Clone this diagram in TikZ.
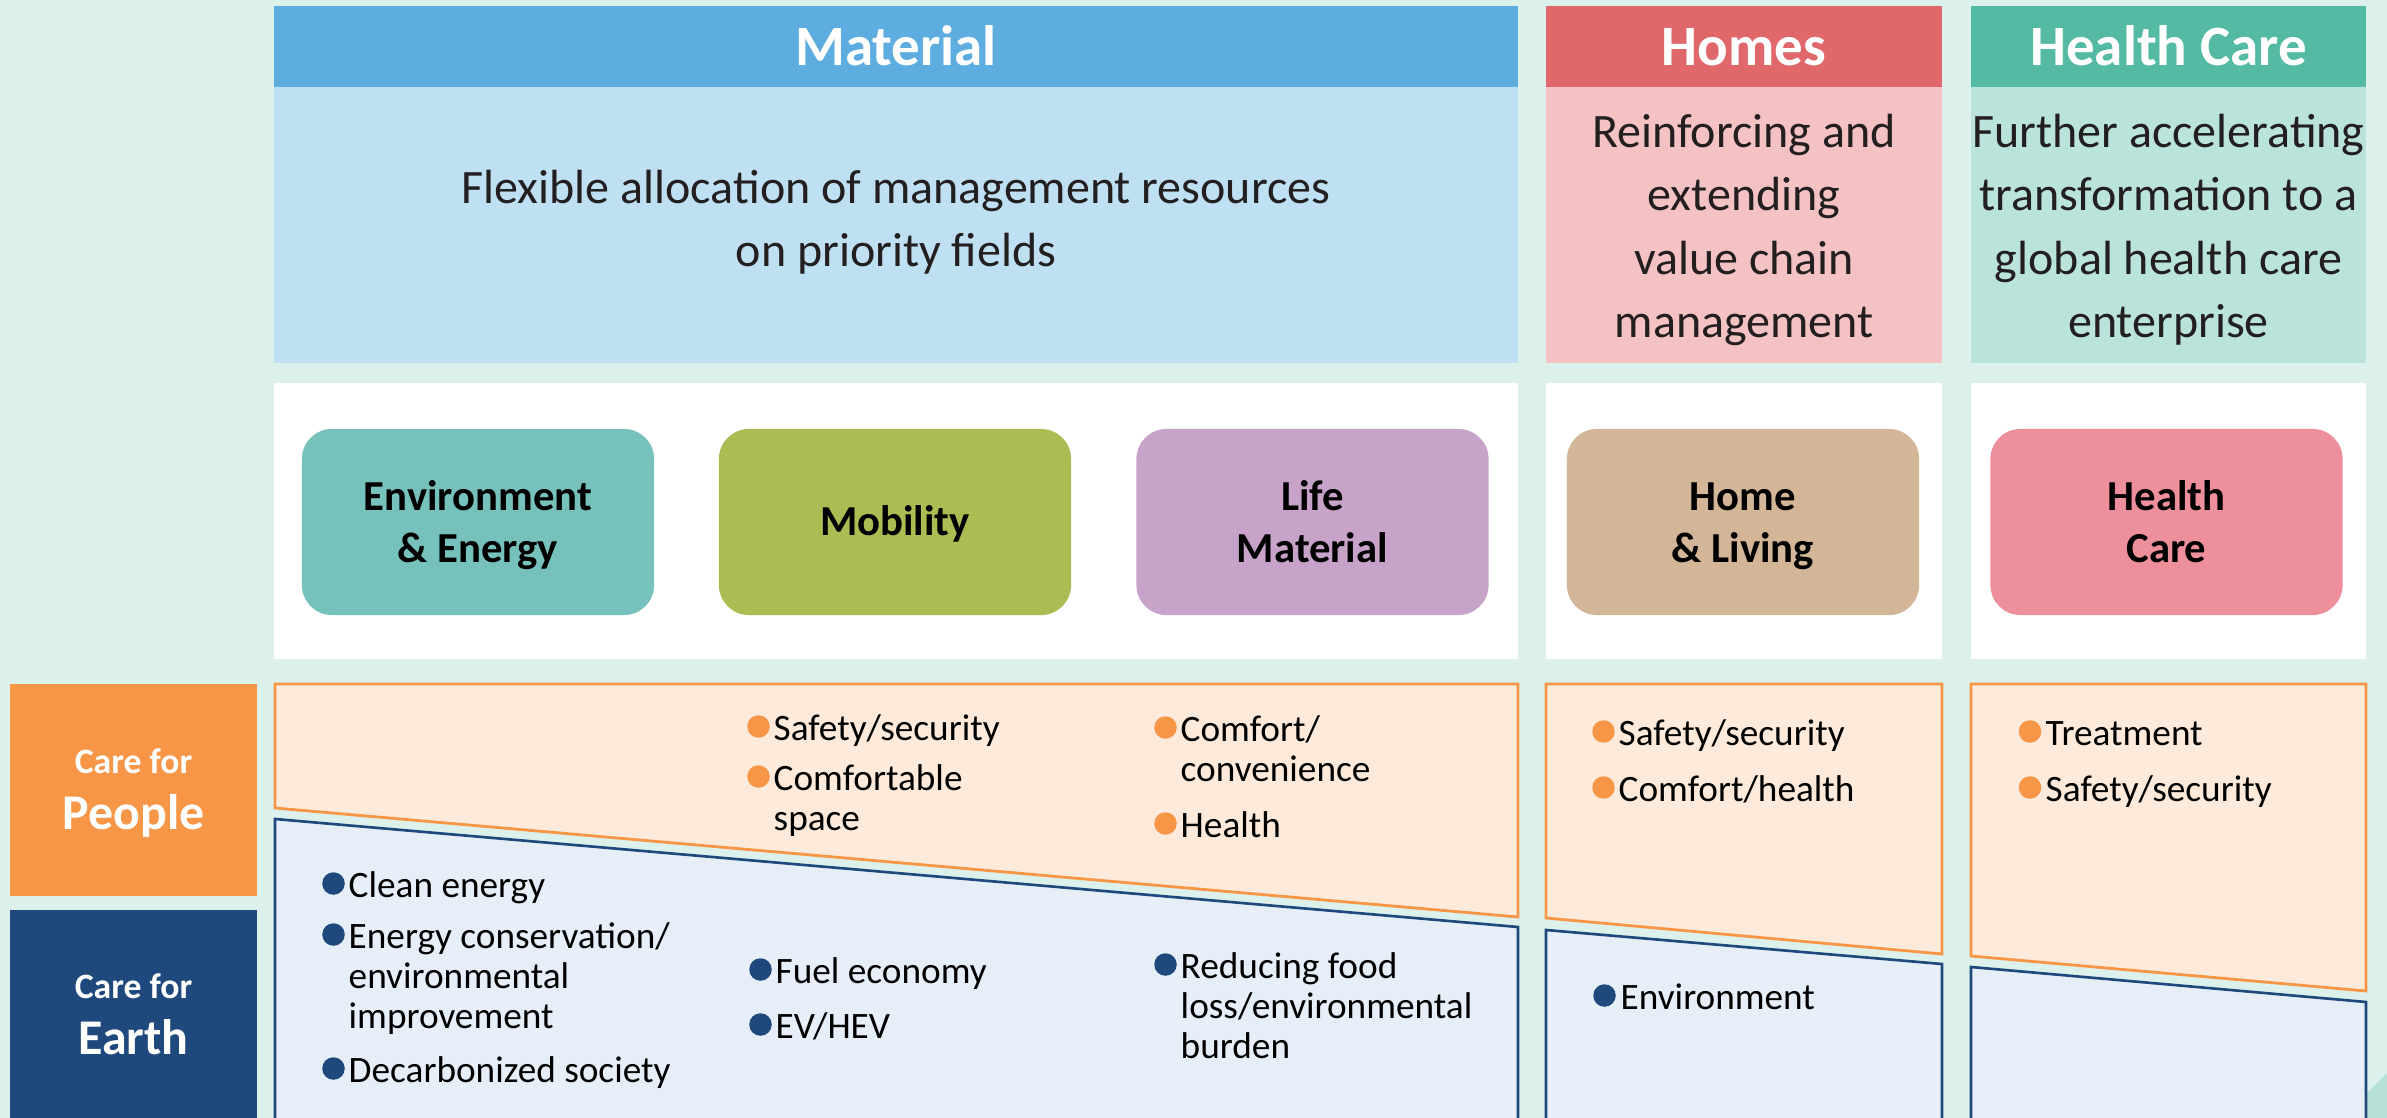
\documentclass[tikz,border=0pt]{standalone}
\usepackage{fontspec}
\setmainfont{Carlito}
\definecolor{bg}{HTML}{DCF0EC}
\definecolor{matH}{HTML}{5DADE0}
\definecolor{matL}{HTML}{BEE0F2}
\definecolor{homH}{HTML}{E0676A}
\definecolor{homL}{HTML}{F4C2C3}
\definecolor{hcH}{HTML}{54BAA4}
\definecolor{hcL}{HTML}{BAE3DB}
\definecolor{envC}{HTML}{76C1BC}
\definecolor{mobC}{HTML}{ABBD52}
\definecolor{lifeC}{HTML}{C7A3CA}
\definecolor{homeC}{HTML}{D3B697}
\definecolor{hlthC}{HTML}{EE8F9C}
\definecolor{orF}{HTML}{FDEADB}
\definecolor{orL}{HTML}{F79646}
\definecolor{blF}{HTML}{E6EFF8}
\definecolor{blL}{HTML}{1F497D}
\definecolor{txt}{HTML}{231F20}
\definecolor{tri}{HTML}{B6E0D7}
\newcommand{\Lbox}[1]{\vtop{\halign{##\hfil\cr#1\crcr}}}
\newcommand{\Cbox}[1]{\vtop{\halign{\hfil##\hfil\cr#1\crcr}}}
\tikzset{
  btxt/.style={inner sep=0pt, anchor=base west, text=black, font=\fontsize{10.6}{11.38}\selectfont},
  toptxt/.style={inner sep=0pt, anchor=base, text=txt, font=\fontsize{13.65}{18.07}\selectfont},
  headtxt/.style={inner sep=0pt, anchor=base, text=white, font=\fontsize{16.2}{19}\selectfont\bfseries},
  subtxt/.style={inner sep=0pt, anchor=base, text=black, font=\fontsize{12.15}{14.8}\selectfont\bfseries},
  subbox/.style={inner sep=0pt, minimum width=3.52cm, minimum height=1.86cm, rounded corners=0.3cm},
  obul/.style={circle, fill=orL, inner sep=0pt, minimum size=0.225cm},
  bbul/.style={circle, fill=blL, inner sep=0pt, minimum size=0.225cm},
  carefor/.style={inner sep=0pt, anchor=base, text=white, font=\fontsize{10.15}{12}\selectfont\bfseries},
  carebig/.style={inner sep=0pt, anchor=base, text=white, font=\fontsize{14.2}{16}\selectfont\bfseries},
  orpoly/.style={fill=orF, draw=orL, line width=0.8pt, line join=miter},
  blpoly/.style={fill=blF, draw=blL, line width=0.75pt, line join=miter},
}
\begin{document}
\begin{tikzpicture}[x=0.01cm, y=-0.01cm]
\useasboundingbox (0,0) rectangle (2387,1118);
\clip (0,0) rectangle (2387,1118);
\fill[bg] (0,0) rectangle (2387,1118);
\fill[tri] (2387,1073) -- (2342,1118) -- (2387,1118) -- cycle;

% top header bands
\fill[matH] (274,6) rectangle (1518,87);
\fill[matL] (274,87) rectangle (1518,363);
\fill[homH] (1546,6) rectangle (1942,87);
\fill[homL] (1546,87) rectangle (1942,363);
\fill[hcH] (1971,6) rectangle (2366,87);
\fill[hcL] (1971,87) rectangle (2366,363);

\node[headtxt] (hMat) at (896,65) {Material};
\node[headtxt] (hHom) at (1744,65) {Homes};
\node[headtxt] (hHC) at (2168.5,65) {Health Care};

\node[toptxt] (tMat) at (896,203) {\Cbox{Flexible allocation of management resources\cr on priority fields}};
\node[toptxt] (tHom) at (1744,147) {\Cbox{Reinforcing and\cr extending\cr value chain\cr management}};
\node[toptxt] (tHC) at (2168.5,147) {\Cbox{Further accelerating\cr transformation to a\cr global health care\cr enterprise}};

% white bands
\fill[white] (274,383) rectangle (1518,659);
\fill[white] (1546,383) rectangle (1942,659);
\fill[white] (1971,383) rectangle (2366,659);

\node[subbox, fill=envC] (sEnv) at (478,522) {};
\node[subbox, fill=mobC] (sMob) at (895,522) {};
\node[subbox, fill=lifeC] (sLife) at (1312.5,522) {};
\node[subbox, fill=homeC] (sHome) at (1743,522) {};
\node[subbox, fill=hlthC] (sHlth) at (2166.5,522) {};
\node[subtxt] (sEnvT) at (478,510) {\Cbox{Environment\cr \& Energy}};
\node[subtxt] (sMobT) at (895,535) {Mobility};
\node[subtxt] (sLifeT) at (1312.5,510) {\Cbox{Life\cr Material}};
\node[subtxt] (sHomeT) at (1743,510) {\Cbox{Home\cr \& Living}};
\node[subtxt] (sHlthT) at (2166.5,510) {\Cbox{Health\cr Care}};

% left labels
\fill[orL] (10,684) rectangle (257,896);
\fill[blL] (10,910) rectangle (257,1130);
\node[carefor] (cp1) at (133.5,773) {Care for};
\node[carebig] (cp2) at (133.5,829) {People};
\node[carefor] (ce1) at (133.5,998) {Care for};
\node[carebig] (ce2) at (133.5,1054) {Earth};

% care polygons
\draw[orpoly] (275,684) -- (1518,684) -- (1518,917) -- (275,808) -- cycle;
\draw[blpoly] (275,1140) -- (275,819) -- (1518,927) -- (1518,1140);
\draw[orpoly] (1546,684) -- (1942,684) -- (1942,954) -- (1546,918) -- cycle;
\draw[blpoly] (1546,1140) -- (1546,930) -- (1942,964) -- (1942,1140);
\draw[orpoly] (1971,684) -- (2366,684) -- (2366,991) -- (1971,956) -- cycle;
\draw[blpoly] (1971,1140) -- (1971,967) -- (2366,1002) -- (2366,1140);

% Material - people
\node[obul] (b1) at (758.5,726.5) {};
\node[btxt] (i1) at (773,740) {Safety/security};
\node[obul] (b2) at (758.5,776.5) {};
\node[btxt] (i2) at (773,790) {\Lbox{Comfortable\cr space}};
\node[obul] (b3) at (1165.5,727.5) {};
\node[btxt] (i3) at (1180,741) {\Lbox{Comfort/\cr convenience}};
\node[obul] (b4) at (1165.5,823.5) {};
\node[btxt] (i4) at (1180,837) {Health};
% Material - earth
\node[bbul] (b5) at (333.5,883.5) {};
\node[btxt] (i5) at (348,897) {Clean energy};
\node[bbul] (b6) at (333.5,934.5) {};
\node[btxt] (i6) at (348,948) {\Lbox{Energy conservation/\cr environmental\cr improvement}};
\node[bbul] (b7) at (333.5,1068.5) {};
\node[btxt] (i7) at (348,1082) {Decarbonized society};
\node[bbul] (b8) at (760.5,969.5) {};
\node[btxt] (i8) at (775,983) {Fuel economy};
\node[bbul] (b9) at (760.5,1024.5) {};
\node[btxt] (i9) at (775,1038) {EV/HEV};
\node[bbul] (b10) at (1165.5,964.5) {};
\node[btxt] (i10) at (1180,978) {\Lbox{Reducing food\cr loss/environmental\cr burden}};
% Homes
\node[obul] (b11) at (1603.5,731.5) {};
\node[btxt] (i11) at (1618,745) {Safety/security};
\node[obul] (b12) at (1603.5,787.5) {};
\node[btxt] (i12) at (1618,801) {Comfort/health};
\node[bbul] (b13) at (1604.5,995.5) {};
\node[btxt] (i13) at (1620,1009) {Environment};
% Health Care
\node[obul] (b14) at (2030,731.5) {};
\node[btxt] (i14) at (2045,745) {Treatment};
\node[obul] (b15) at (2030,787.5) {};
\node[btxt] (i15) at (2045,801) {Safety/security};
\end{tikzpicture}
\end{document}
